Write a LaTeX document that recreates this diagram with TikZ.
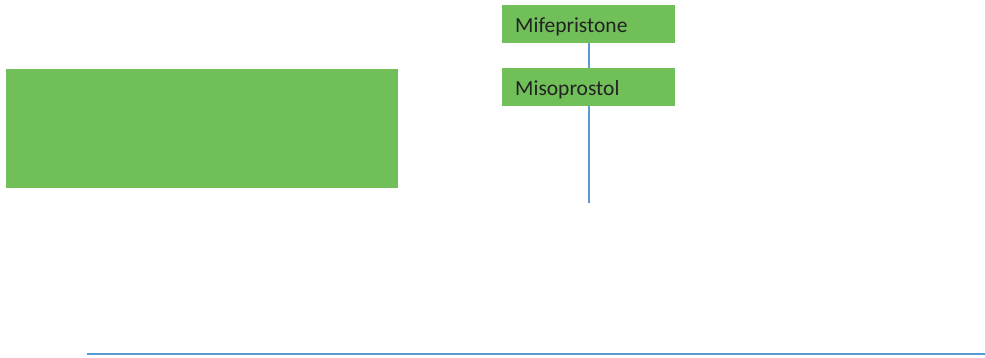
\documentclass[tikz,border=0pt]{standalone}
\usepackage{fontspec}
\setmainfont{Carlito}
\definecolor{boxgreen}{RGB}{112,191,89}
\definecolor{lineblue}{RGB}{91,155,213}
\definecolor{txt}{RGB}{34,34,34}
\begin{document}
\begin{tikzpicture}[x=1pt,y=-1pt,
  gbox/.style={fill=boxgreen,draw=none,inner sep=0pt,outer sep=0pt},
  label/.style={font=\fontsize{21.5}{24}\selectfont,text=txt,anchor=west,inner sep=0pt},
  conn/.style={draw=lineblue,line width=2pt}]
\useasboundingbox (0,0) rectangle (985,358);
\node[gbox,minimum width=173pt,minimum height=38pt,anchor=north west] (mife) at (502,5.5) {};
\node[label] at ([xshift=13pt,yshift=-2.5pt]mife.west) {Mifepristone};
\node[gbox,minimum width=173pt,minimum height=38pt,anchor=north west] (miso) at (502,68.5) {};
\node[label] at ([xshift=13pt,yshift=-2.5pt]miso.west) {Misoprostol};
\node[gbox,minimum width=392pt,minimum height=119pt,anchor=north west] (big) at (6,69) {};
\coordinate (end) at (589,203);
\coordinate (hl) at (87,354);
\coordinate (hr) at (985,354);
\draw[conn] (mife.south -| end) -- (miso.north -| end);
\draw[conn] (miso.south -| end) -- (end);
\draw[conn] (hl) -- (hr);
\end{tikzpicture}
\end{document}
